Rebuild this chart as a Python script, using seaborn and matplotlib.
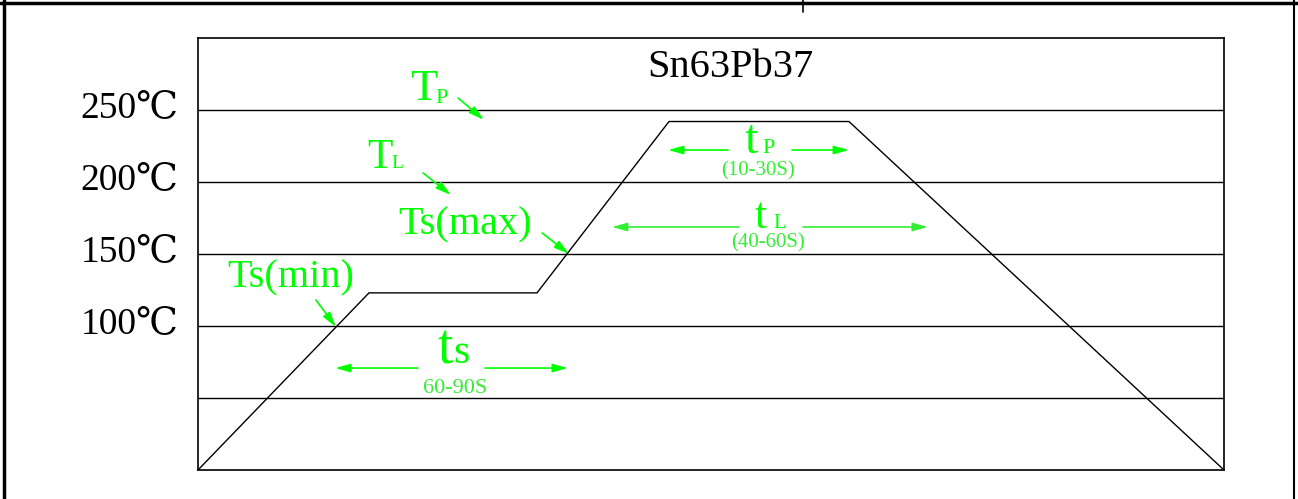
import matplotlib
matplotlib.use("Agg")
import matplotlib.pyplot as plt
import matplotlib.transforms as mtransforms
from matplotlib.lines import Line2D
import seaborn as sns
import pandas as pd

# ---- data ----
profile_time = [0, 57, 113, 157, 217, 342]          # s (arbitrary scale)
profile_temp = [0, 123, 123, 242, 242, 0]           # degC
grid_levels = [50, 100, 150, 200, 250]
ytick_values = [100, 150, 200, 250]
ytick_labels = ["100℃", "150℃", "200℃", "250℃"]
title_text = "Sn63Pb37"

sns.set_theme(style="white")
plt.rcParams["font.family"] = ["Liberation Serif", "DejaVu Serif"]

GREEN = "#00ff00"
GREEN2 = "#33ee33"

fig = plt.figure(figsize=(12.98, 4.99), dpi=100)
W, H = 1298, 499
ax = fig.add_axes([198 / W, 1 - 470 / H, (1224 - 198) / W, (470 - 38) / H])

df = pd.DataFrame({"time": profile_time, "temp": profile_temp})
sns.lineplot(data=df, x="time", y="temp", ax=ax, color="black", lw=1.0,
             estimator=None, sort=False)

for g in grid_levels:
    ax.axhline(g, color="black", lw=1.0, zorder=1)

ax.set_xlim(0, 342)
ax.set_ylim(0, 300)
ax.set_xlabel("")
ax.set_ylabel("")
ax.set_xticks([])
ax.set_yticks(ytick_values, labels=ytick_labels)
ax.tick_params(axis="y", length=0, pad=14, labelsize=27, colors="black")
offset = mtransforms.ScaledTranslation(0, 6 / 100, fig.dpi_scale_trans)
for t in ax.yaxis.get_major_ticks():
    t.label1.set_transform(t.label1.get_transform() + offset)
for s in ax.spines.values():
    s.set_color("black")
    s.set_linewidth(1.2)

# title
ax.text(177.3, 272.9, title_text, ha="center", va="baseline", fontsize=29, color="black")

# labels
def lab(x, y, s, size, color=GREEN, ha="left"):
    ax.text(x, y, s, ha=ha, va="baseline", fontsize=size, color=color)

def arrow(x0, y0, x1, y1, color=GREEN):
    ax.annotate("", xy=(x1, y1), xytext=(x0, y0),
                arrowprops=dict(arrowstyle="-|>,head_length=0.9,head_width=0.25",
                                color=color, lw=1.2, shrinkA=0, shrinkB=0,
                                mutation_scale=10))

# T_P
lab(70.7, 256.9, "T", 32)
lab(79.0, 254.9, "P", 16)
arrow(86.7, 258.3, 95.3, 243.1)
# T_L
lab(56.3, 209.7, "T", 30)
lab(64.3, 209.7, "L", 14)
arrow(75.0, 206.3, 84.3, 191.0)
# Ts(max)
lab(66.7, 163.9, "Ts(max)", 29)
arrow(114.7, 164.6, 123.7, 150.0)
# Ts(min)
lab(9.7, 127.1, "Ts(min)", 29)
arrow(39.3, 118.1, 46.0, 99.3)
# t_s
lab(79.7, 74.3, "t", 40)
lab(85.0, 74.3, "s", 30)
lab(85.7, 53.2, "60-90S", 16, color=GREEN2, ha="center")
arrow(73.3, 70.8, 45.7, 70.8)
arrow(95.7, 70.8, 123.3, 70.8)
# t_P
lab(182.3, 220.1, "t", 35)
lab(188.0, 220.1, "P", 16)
lab(186.7, 204.5, "(10-30S)", 15, color=GREEN2, ha="center")
arrow(176.7, 222.2, 156.7, 222.2)
arrow(198.0, 222.2, 217.0, 222.2)
# t_L
lab(185.7, 168.1, "t", 32)
lab(191.7, 168.1, "L", 15)
lab(190.0, 154.2, "(40-60S)", 15, color=GREEN2, ha="center")
arrow(180.3, 168.75, 138.0, 168.75, color=GREEN2)
arrow(201.7, 168.75, 243.3, 168.75, color=GREEN2)

# outer frame
def fline(x0, y0, x1, y1, lw):
    fig.add_artist(Line2D([x0 / W, x1 / W], [1 - y0 / H, 1 - y1 / H],
                          transform=fig.transFigure, color="black", lw=lw))

fline(0, 2.5, W, 2.5, 2.5)
fline(4, 0, 4, H, 2.5)
fline(1294, 0, 1294, H, 1.5)
fline(803, 0, 803, 12, 1.2)

fig.savefig("out.png", dpi=100)
